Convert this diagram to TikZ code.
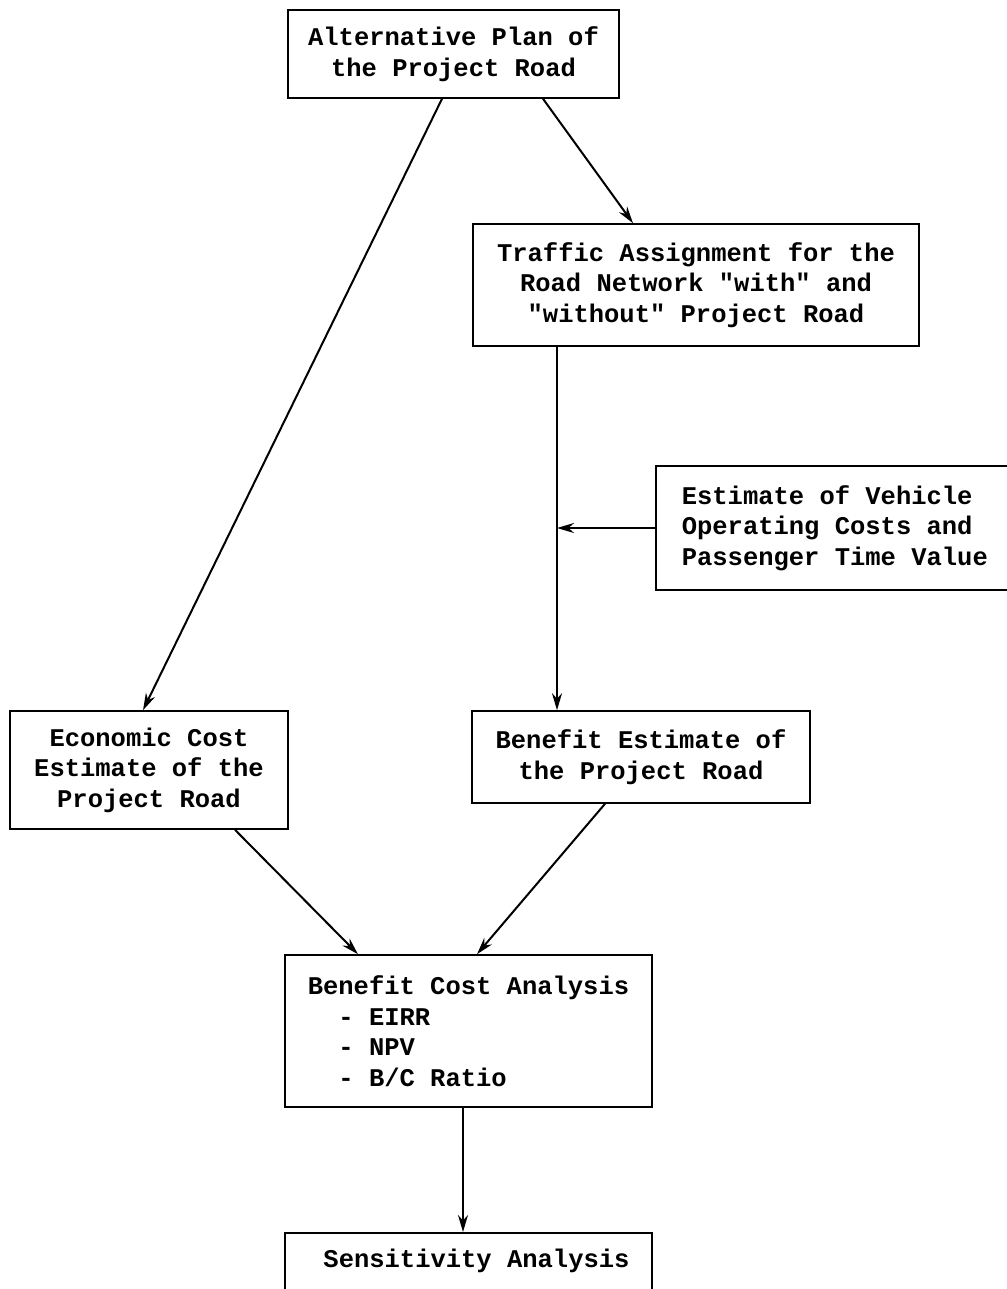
\documentclass[tikz,border=0pt]{standalone}
\usepackage{fontspec}
\setmonofont{Liberation Mono}
\usetikzlibrary{arrows.meta}

\begin{document}
\begin{tikzpicture}
\tikzset{box/.style={draw=black,line width=0.8pt,font=\ttfamily\bfseries\fontsize{12.75}{15.25}\selectfont,align=center,inner sep=0pt}}
\tikzset{flowline/.style={draw=black,line width=1pt,-{Stealth[length=8.5pt,width=5pt]}}}

\begin{scope}[x={(0.5pt,0pt)},y={(0pt,-0.5pt)}]
\useasboundingbox (0,0) rectangle (1006,1289);

% boxes
\node[box,minimum width=165.5pt,minimum height=44pt] (plan) at (453.5,54) {Alternative Plan of\\the Project Road};
\node[box,minimum width=223pt,minimum height=61pt] (assign) at (696,285) {Traffic Assignment for the\\Road Network "with" and\\"without" Project Road};
\node[box,anchor=west,align=left,inner xsep=13pt,minimum height=62pt] (voc) at (655,528) {Estimate of Vehicle\\Operating Costs and\\Passenger Time Value\phantom{xx}};
\node[box,minimum width=139pt,minimum height=59pt] (cost) at (149,770) {Economic Cost\\Estimate of the\\Project Road};
\node[box,minimum width=169pt,minimum height=46pt] (benefit) at (641,757) {Benefit Estimate of\\the Project Road};
\node[box,align=left,minimum width=183.5pt,minimum height=76pt] (bca) at (468.5,1031) {Benefit Cost Analysis\\\phantom{xx}- EIRR\\\phantom{xx}- NPV\\\phantom{xx}- B/C Ratio};
\node[box,anchor=north,minimum width=183.5pt,inner ysep=8pt,text depth=40pt] (sens) at (468.5,1232) {\hspace*{8pt}Sensitivity Analysis};

% connectors
\coordinate (trunk) at ([xshift=-69.5pt]assign.south);
\path[flowline] ([xshift=-5.75pt]plan.south) -- ([xshift=-3pt]cost.north);
\path[flowline] ([xshift=44.75pt]plan.south) -- ([xshift=-31.5pt]assign.north);
\path[flowline] (trunk) -- (trunk |- benefit.north);
\path[flowline] (voc.west) -- (voc.west -| trunk);
\path[flowline] ([xshift=43pt]cost.south) -- ([xshift=-55.25pt]bca.north);
\path[flowline] ([xshift=-18pt]benefit.south) -- ([xshift=4.25pt]bca.north);
\path[flowline] ([xshift=-2.75pt]bca.south) -- ([xshift=-2.75pt]sens.north);

\end{scope}
\end{tikzpicture}
\end{document}
